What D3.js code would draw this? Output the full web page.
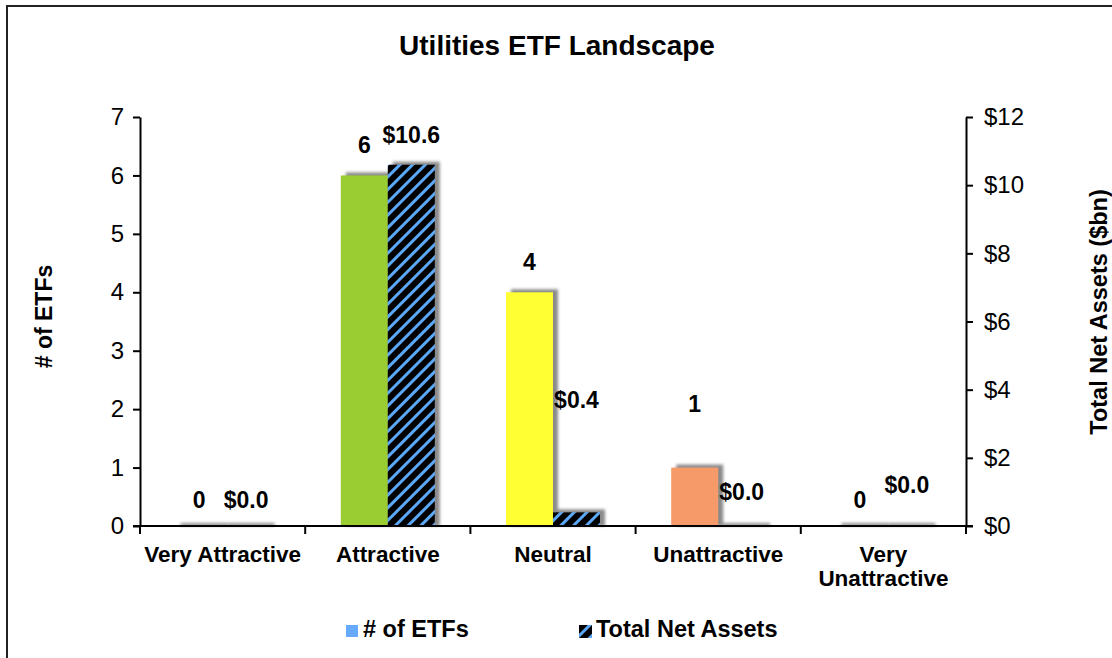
<!DOCTYPE html>
<html>
<head>
<meta charset="utf-8">
<script src="https://cdn.jsdelivr.net/npm/d3@7"></script>
<style>
  body { margin: 0; background: #fff; }
  svg { display: block; font-family: "Liberation Sans", Arial, sans-serif; }
</style>
</head>
<body>
<svg id="chart" width="1112" height="658"></svg>
<script>
const categories = ["Very Attractive", "Attractive", "Neutral", "Unattractive", "Very Unattractive"];
const etfCounts = [0, 6, 4, 1, 0];
const netAssets = [0.0, 10.6, 0.4, 0.0, 0.0];
const etfColors = ["#9acd32", "#9acd32", "#ffff33", "#f79a6a", "#f79a6a"];
const leftTicks = [0, 1, 2, 3, 4, 5, 6, 7];
const rightTicks = [0, 2, 4, 6, 8, 10, 12];
// how far each data label sits above its bar (hand placed in the original)
const countLift = [18, 22, 22, 56, 18];
const assetLift = [18, 22, 104, 26, 33];

const svg = d3.select("#chart"),
    margin = { top: 117, right: 146, bottom: 132, left: 140 },
    width = +svg.attr("width") - margin.left - margin.right,
    height = +svg.attr("height") - margin.top - margin.bottom,
    chart = svg.append("g").attr("transform", `translate(${margin.left},${margin.top})`);

// frame
svg.append("rect")
    .attr("x", 7).attr("y", 6)
    .attr("width", 1200).attr("height", 800)
    .attr("fill", "none").attr("stroke", "#222").attr("stroke-width", 2);

const defs = svg.append("defs");
const hatch = defs.append("pattern")
    .attr("id", "hatch")
    .attr("patternUnits", "userSpaceOnUse")
    .attr("width", 9).attr("height", 9)
    .attr("patternTransform", "rotate(45)");
hatch.append("rect").attr("width", 9).attr("height", 9).attr("fill", "#000");
hatch.append("rect").attr("width", 3).attr("height", 9).attr("fill", "#5ca8f8");

defs.append("filter").attr("id", "blur")
    .attr("x", "-20%").attr("y", "-20%").attr("width", "140%").attr("height", "140%")
    .append("feGaussianBlur").attr("stdDeviation", 1.6);

const x = d3.scaleBand().domain(categories).range([0, width]);
const inner = d3.scaleBand().domain(["count", "assets"]).range([x.bandwidth() / 2 - 47, x.bandwidth() / 2 + 47]);
const y = d3.scaleLinear().domain([0, 7]).range([height, 0]);
const y2 = d3.scaleLinear().domain([0, 12]).range([height, 0]);

chart.append("text")
    .attr("x", width / 2 + 4)
    .attr("y", -62)
    .attr("text-anchor", "middle")
    .style("font-size", "28px").style("font-weight", "bold")
    .text("Utilities ETF Landscape");

const rows = categories.map((c, i) => ({ cat: c, i, count: etfCounts[i], assets: netAssets[i] }));

// shadows
const shadows = chart.append("g").attr("filter", "url(#blur)");
rows.forEach(d => {
    shadows.append("rect")
        .attr("x", x(d.cat) + inner("count") + 5)
        .attr("y", y(d.count) - 3)
        .attr("width", inner.bandwidth())
        .attr("height", height - y(d.count) + 3)
        .attr("fill", "#8a8a8a");
    shadows.append("rect")
        .attr("x", x(d.cat) + inner("assets") + 5)
        .attr("y", y2(d.assets) - 3)
        .attr("width", inner.bandwidth())
        .attr("height", height - y2(d.assets) + 3)
        .attr("fill", "#8a8a8a");
});

chart.selectAll(".bar-count").data(rows).enter()
    .append("rect")
    .attr("class", "bar-count")
    .attr("x", d => x(d.cat) + inner("count"))
    .attr("y", d => y(d.count))
    .attr("width", inner.bandwidth())
    .attr("height", d => height - y(d.count))
    .attr("fill", d => etfColors[d.i]);

chart.selectAll(".bar-assets").data(rows).enter()
    .append("rect")
    .attr("class", "bar-assets")
    .attr("x", d => x(d.cat) + inner("assets"))
    .attr("y", d => y2(d.assets))
    .attr("width", inner.bandwidth())
    .attr("height", d => height - y2(d.assets))
    .attr("fill", "url(#hatch)");

chart.selectAll(".lbl-count").data(rows).enter()
    .append("text")
    .attr("x", d => x(d.cat) + inner("count") + inner.bandwidth() / 2)
    .attr("y", d => y(d.count) - countLift[d.i])
    .attr("text-anchor", "middle")
    .style("font-size", "23px").style("font-weight", "bold")
    .text(d => d.count);

chart.selectAll(".lbl-assets").data(rows).enter()
    .append("text")
    .attr("x", d => x(d.cat) + inner("assets") + inner.bandwidth() / 2)
    .attr("y", d => y2(d.assets) - assetLift[d.i])
    .attr("text-anchor", "middle")
    .style("font-size", "23px").style("font-weight", "bold")
    .text(d => "$" + d.assets.toFixed(1));

// axes
const leftAxis = chart.append("g")
    .call(d3.axisLeft(y).tickValues(leftTicks).tickSize(7).tickSizeOuter(0).tickPadding(9)
        .tickFormat(d3.format("d")));
const rightAxis = chart.append("g")
    .attr("transform", `translate(${width},0)`)
    .call(d3.axisRight(y2).tickValues(rightTicks).tickSize(7).tickSizeOuter(0).tickPadding(11)
        .tickFormat(d => "$" + d));
[leftAxis, rightAxis].forEach(g => {
    g.selectAll("path, line").attr("stroke", "#000").attr("stroke-width", 2);
    g.selectAll("text").style("font-size", "24px").attr("fill", "#000")
        .style("font-family", "Liberation Sans, Arial, sans-serif");
});

const xAxis = chart.append("g").attr("transform", `translate(0,${height})`);
xAxis.append("line")
    .attr("x1", -7).attr("x2", width + 7)
    .attr("stroke", "#000").attr("stroke-width", 2);
xAxis.selectAll(".xtick").data(categories.concat([null])).enter()
    .append("line")
    .attr("x1", (d, i) => i * x.step()).attr("x2", (d, i) => i * x.step())
    .attr("y1", 0).attr("y2", 8)
    .attr("stroke", "#000").attr("stroke-width", 2);

const xLabels = xAxis.selectAll(".xlabel").data(categories).enter()
    .append("text")
    .attr("x", d => x(d) + x.bandwidth() / 2)
    .attr("y", 36)
    .attr("text-anchor", "middle")
    .style("font-size", "22.5px").style("font-weight", "bold");
xLabels.each(function (d) {
    const t = d3.select(this);
    const parts = d === "Very Unattractive" ? ["Very", "Unattractive"] : [d];
    parts.forEach((p, k) => t.append("tspan")
        .attr("x", x(d) + x.bandwidth() / 2)
        .attr("dy", k === 0 ? 0 : 24)
        .text(p));
});

svg.append("text")
    .attr("transform", `translate(52,${margin.top + height / 2 - 5}) rotate(-90)`)
    .attr("text-anchor", "middle")
    .style("font-size", "23px").style("font-weight", "bold")
    .text("# of ETFs");

svg.append("text")
    .attr("transform", `translate(1107,${margin.top + 195}) rotate(-90)`)
    .attr("text-anchor", "middle")
    .style("font-size", "23.5px").style("font-weight", "bold")
    .text("Total Net Assets ($bn)");

// legend
const legend = svg.append("g").attr("transform", "translate(346,625)");
legend.append("rect").attr("width", 12).attr("height", 12).attr("fill", "#66aaff");
legend.append("text").attr("x", 17).attr("y", 12)
    .style("font-size", "23.5px").style("font-weight", "bold").text("# of ETFs");
legend.append("rect").attr("x", 233).attr("width", 13).attr("height", 13).attr("fill", "url(#hatch)");
legend.append("text").attr("x", 250).attr("y", 12)
    .style("font-size", "23.5px").style("font-weight", "bold").text("Total Net Assets");
</script>
</body>
</html>
